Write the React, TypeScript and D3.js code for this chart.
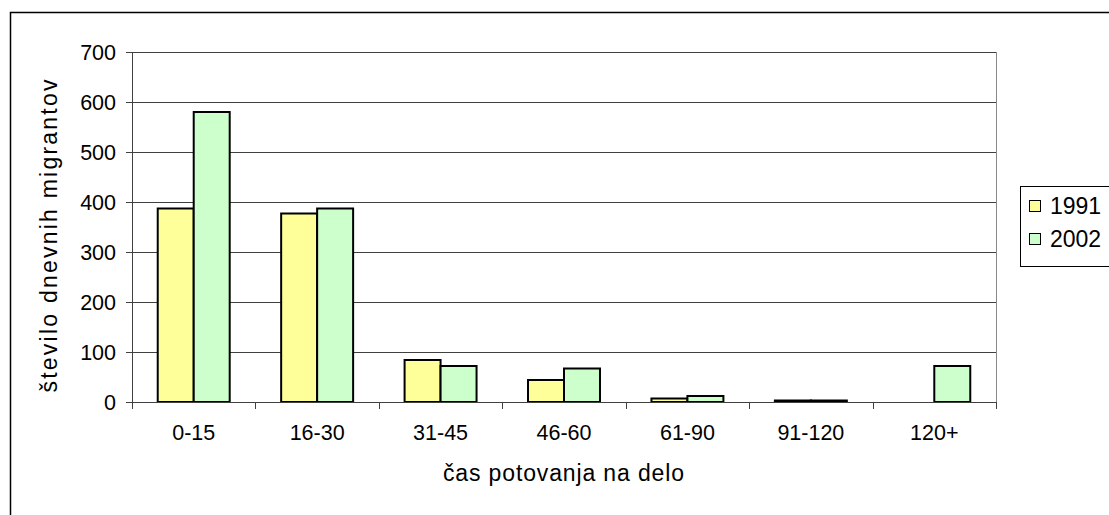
import React from "react";
import * as d3 from "d3";

const categories = ["0-15", "16-30", "31-45", "46-60", "61-90", "91-120", "120+"];
const seriesNames = ["1991", "2002"];
const values1991 = [387, 377, 84, 44, 7, 3, 0];
const values2002 = [580, 387, 72, 67, 12, 3, 72];
const yTicks = [0, 100, 200, 300, 400, 500, 600, 700];
const colors = ["#FFFF99", "#CCFFCC"];
const xTitle = "čas potovanja na delo";
const yTitle = "število dnevnih migrantov";

const W = 1109;
const H = 515;
const FONT = "Arial, 'Liberation Sans', sans-serif";

export default function App() {
  const left = 132, right = 996, top = 52, bottom = 402;
  const y = d3.scaleLinear().domain([0, 700]).range([bottom, top]);
  const x0 = d3.scaleBand<string>().domain(categories).range([left, right]);
  const x1 = d3
    .scaleBand<string>()
    .domain(seriesNames)
    .range([0, x0.bandwidth()])
    .paddingInner(0)
    .paddingOuter(0.715);
  const series = [values1991, values2002];
  const boundaries = categories.map((c) => x0(c) as number).concat([right]);

  return (
    <svg
      width={W}
      height={H}
      style={{ position: "absolute", left: 0, top: 0, background: "#fff" }}
      fontFamily={FONT}
    >
      <rect x={0} y={0} width={W} height={H} fill="#fff" />
      <rect x={10.5} y={12.5} width={1300} height={700} fill="none" stroke="#000" strokeWidth={1.5} />
      {/* gridlines */}
      {yTicks.filter((t) => t > 0).map((t) => (
        <line key={"g" + t} x1={left} x2={right} y1={Math.round(y(t)) + 0.5} y2={Math.round(y(t)) + 0.5} stroke="#404040" strokeWidth={1} />
      ))}
      {/* right plot border */}
      <line x1={right + 0.5} x2={right + 0.5} y1={top} y2={bottom} stroke="#888" strokeWidth={1} />
      {/* bars */}
      {categories.map((c, i) => (
        <g key={c}>
          {series.map((vals, s) => {
            const bx = (x0(c) as number) + (x1(seriesNames[s]) as number);
            const h = bottom - y(vals[i]);
            if (vals[i] <= 0) return null;
            return (
              <rect
                key={s}
                x={bx}
                y={y(vals[i])}
                width={x1.bandwidth()}
                height={h}
                fill={colors[s]}
                stroke="#000"
                strokeWidth={2}
              />
            );
          })}
        </g>
      ))}
      {/* y axis */}
      <line x1={left + 0.5} x2={left + 0.5} y1={top} y2={bottom} stroke="#404040" strokeWidth={1} />
      {yTicks.map((t) => (
        <g key={"y" + t}>
          <line x1={left - 6} x2={left} y1={Math.round(y(t)) + 0.5} y2={Math.round(y(t)) + 0.5} stroke="#404040" />
          <text x={left - 16} y={y(t)} dy="0.36em" textAnchor="end" fontSize={21.5}>
            {t}
          </text>
        </g>
      ))}
      {/* x axis */}
      <line x1={left} x2={right + 1} y1={bottom + 0.5} y2={bottom + 0.5} stroke="#404040" strokeWidth={1} />
      {boundaries.map((b, i) => (
        <line key={"xt" + i} x1={Math.round(b) + 0.5} x2={Math.round(b) + 0.5} y1={bottom} y2={bottom + 7} stroke="#404040" />
      ))}
      {categories.map((c) => (
        <text key={"xl" + c} x={(x0(c) as number) + x0.bandwidth() / 2} y={440} textAnchor="middle" fontSize={21.5}>
          {c}
        </text>
      ))}
      <text x={563.5} y={481} textAnchor="middle" fontSize={23} textLength={241} lengthAdjust="spacing">
        {xTitle}
      </text>
      <text
        transform={`translate(57, 236) rotate(-90)`}
        textAnchor="middle"
        fontSize={23}
        textLength={313}
        lengthAdjust="spacing"
      >
        {yTitle}
      </text>
      {/* legend */}
      <rect x={1020.5} y={186.5} width={200} height={80} fill="#fff" stroke="#000" strokeWidth={1} />
      {seriesNames.map((s, i) => (
        <g key={"lg" + s}>
          <rect x={1029.5} y={200.5 + i * 33} width={11} height={11} fill={colors[i]} stroke="#000" strokeWidth={1} />
          <text x={1050} y={206 + i * 33} dy="0.36em" fontSize={23}>
            {s}
          </text>
        </g>
      ))}
    </svg>
  );
}
